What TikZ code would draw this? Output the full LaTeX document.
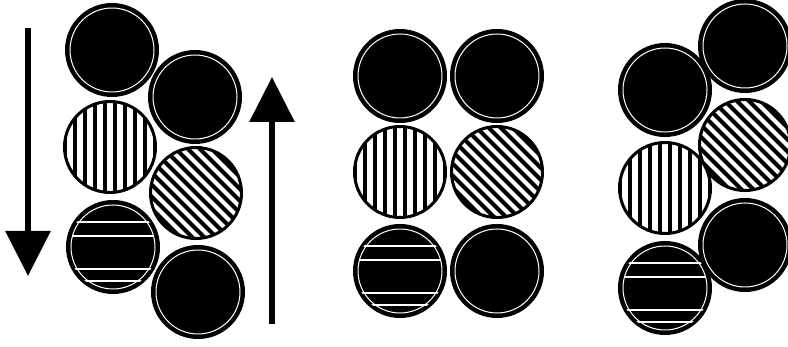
\documentclass[tikz,border=0pt]{standalone}
\usetikzlibrary{arrows.meta,calc}
\begin{document}
\begin{tikzpicture}[x=1pt,y=-1pt,
  ball/.style={circle, draw=black, line width=3pt, minimum size=91pt, inner sep=0pt},
  blackball/.style={ball, fill=black,
    path picture={\draw[white, line width=1pt] (path picture bounding box.center) circle (42pt);}},
  vball/.style={ball, fill=white,
    path picture={\foreach \k in {-45,-35,...,45}{\draw[black, line width=4.5pt] ($(path picture bounding box.center)+(\k,-50)$) -- ++(0,100);}}},
  hball/.style={ball, fill=black,
    path picture={\draw[white, line width=1pt] (path picture bounding box.center) circle (42pt);
      \foreach \k in {-25,-11,22,34}{\draw[white, line width=2pt] ($(path picture bounding box.center)+(-40,\k)$) -- ++(80,0);}}},
  dball/.style={ball, fill=white,
    path picture={\foreach \k in {-120,-108,...,120}{\draw[black, line width=4.2pt] ($(path picture bounding box.center)+(\k-60,-60)$) -- ++(120,120);}}},
  arrowline/.style={line width=6pt, -{Triangle[width=44pt,length=45pt]}}
]
\useasboundingbox (0,0) rectangle (788,347);
% left group
\node[blackball] (L1) at (112,50) {};
\node[blackball] (L2) at (195,97) {};
\node[vball] (L3) at (110,147) {};
\node[dball] (L4) at (196,193) {};
\node[hball] (L5) at (113,247) {};
\node[blackball] (L6) at (198,292) {};
% arrows
\coordinate (d1) at (28,28);
\coordinate (d2) at (28,276);
\draw[arrowline] (d1) -- (d2);
\coordinate (u1) at (272,324);
\coordinate (u2) at (272,77);
\draw[arrowline] (u1) -- (u2);
% middle group
\node[blackball] (M1) at (400,76) {};
\node[blackball] (M2) at (497,76) {};
\node[vball] (M3) at (400,172) {};
\node[dball] (M4) at (497,172) {};
\node[hball] (M5) at (400,271) {};
\node[blackball] (M6) at (497,271) {};
% right group
\node[blackball] (R1) at (745,46) {};
\node[blackball] (R2) at (665,90) {};
\node[dball] (R3) at (745,145) {};
\node[vball] (R4) at (665,188) {};
\node[blackball] (R5) at (745,245) {};
\node[hball] (R6) at (665,288) {};
\end{tikzpicture}
\end{document}
